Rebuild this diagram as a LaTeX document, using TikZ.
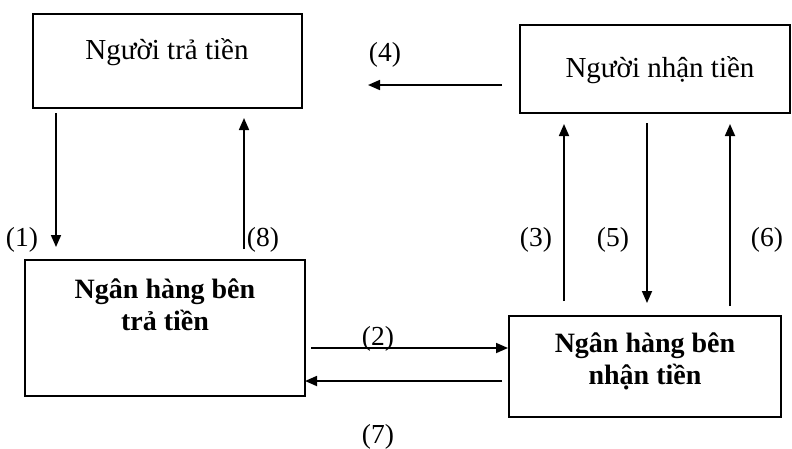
\documentclass[tikz,border=0pt]{standalone}
\usepackage{fontspec}
\setmainfont{Liberation Serif}
\usetikzlibrary{arrows.meta,calc}
\begin{document}
\begin{tikzpicture}[x=1pt,y=-1pt,
  box/.style={draw,line width=2pt,rectangle,inner sep=0pt},
  boxtext/.style={font=\fontsize{29}{33}\selectfont,align=center},
  bankt/.style={font=\fontsize{28}{32}\selectfont\bfseries,align=center},
  lbl/.style={font=\fontsize{27.5}{30}\selectfont},
  arr/.style={line width=1.7pt,-{Triangle[length=12pt,width=10pt]}}]
\useasboundingbox[fill=white] (0,0) rectangle (792,448);

% the four parties
\node[box,minimum width=269pt,minimum height=94pt] (A) at (167.5,61) {};
\node[box,minimum width=270pt,minimum height=88pt] (B) at (655,69) {};
\node[box,minimum width=280pt,minimum height=136pt] (C) at (165,328) {};
\node[box,minimum width=272pt,minimum height=101pt] (D) at (645,366.5) {};

\node[boxtext] (At) at (167,52) {Người trả tiền};
\node[boxtext] (Bt) at (660,70) {Người nhận tiền};
\node[bankt] (Ct) at (165,305) {Ngân hàng bên\\trả tiền};
\node[bankt] (Dt) at (645,361) {Ngân hàng bên\\nhận tiền};

% flows between the parties
\draw[arr] ($(A.south west)+(24,4)$) -- ($(C.north west)+(32,-12)$);
\draw[arr] ($(C.north west)+(220,-10)$) -- ($(A.south west)+(212,9)$);
\draw[arr] ($(D.north west)+(56,-14)$) -- ($(B.south west)+(45,10)$);
\draw[arr] ($(B.south west)+(128,9)$) -- ($(D.north west)+(139,-12)$);
\draw[arr] ($(D.north west)+(222,-9)$) -- ($(B.south west)+(211,10)$);
\draw[arr] ($(B.west)+(-17,16)$) -- ($(A.east)+(65,24)$);
\draw[arr] ($(C.east)+(5,20)$) -- ($(D.west)+(0,-18.5)$);
\draw[arr] ($(D.west)+(-6,14.5)$) -- ($(C.east)+(-1,53)$);

% step numbers
\node[lbl] (l1) at (22,240) {(1)};
\node[lbl] (l2) at (378,339) {(2)};
\node[lbl] (l3) at (536,240) {(3)};
\node[lbl] (l4) at (385,55) {(4)};
\node[lbl] (l5) at (613,240) {(5)};
\node[lbl] (l6) at (767,240) {(6)};
\node[lbl] (l7) at (378,437) {(7)};
\node[lbl] (l8) at (263,240) {(8)};
\end{tikzpicture}
\end{document}
